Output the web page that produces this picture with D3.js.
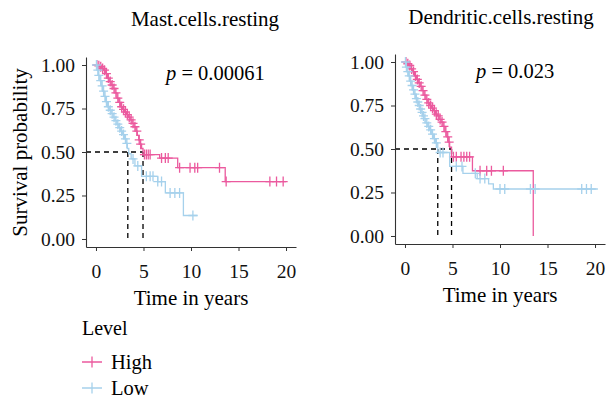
<!DOCTYPE html>
<html>
<head>
<meta charset="utf-8">
<script src="https://cdn.jsdelivr.net/npm/d3@7/dist/d3.min.js"></script>
<style>
  body { margin: 0; background: #fff; }
  svg { font-family: "Liberation Serif", serif; }
</style>
</head>
<body>
<svg id="chart" width="607" height="398"></svg>
<script>
const width = 607, height = 398

// ticks
const yearTicks = [0, 5, 10, 15, 20]
const probTicks = [0, 0.25, 0.5, 0.75, 1]
const groups = ['High', 'Low']
const colors = ['#EB5A9E', '#A6D1EC']

// Mast.cells.resting - High
const mastHighT = [0.2, 0.4, 0.6, 0.8, 1.0, 1.2, 1.4, 1.6, 1.8, 2.0, 2.2, 2.4, 2.6, 2.8, 3.0, 3.2, 3.4, 3.6, 3.8, 4.0, 4.2, 4.35, 4.5, 4.65, 4.8, 4.95, 6.7, 8.6, 13.6]
const mastHighS = [0.995, 0.99, 0.98, 0.97, 0.95, 0.925, 0.905, 0.885, 0.865, 0.84, 0.81, 0.785, 0.76, 0.745, 0.73, 0.715, 0.70, 0.685, 0.665, 0.645, 0.62, 0.595, 0.57, 0.545, 0.52, 0.485, 0.465, 0.41, 0.33]
const mastHighCens = [0.1, 0.3, 0.5, 0.7, 0.9, 1.1, 1.3, 1.5, 1.7, 1.9, 2.1, 2.3, 2.5, 2.7, 2.9, 3.1, 3.3, 3.5, 3.7, 3.9, 4.1, 4.3, 4.55, 4.7, 5.1, 5.3, 5.5, 5.7, 6.9, 7.3, 7.6, 8.8, 9.9, 10.4, 10.7, 13.0, 13.7, 18.3, 19.0, 19.7]
const mastHighEnd = 20

// Mast.cells.resting - Low
const mastLowT = [0.1, 0.25, 0.4, 0.55, 0.7, 0.85, 1.0, 1.2, 1.4, 1.6, 1.8, 2.0, 2.2, 2.4, 2.6, 2.8, 3.0, 3.15, 3.3, 3.45, 3.7, 4.1, 4.8, 6.5, 7.3, 9.2]
const mastLowS = [0.97, 0.94, 0.91, 0.88, 0.85, 0.82, 0.79, 0.76, 0.74, 0.72, 0.70, 0.68, 0.66, 0.64, 0.62, 0.60, 0.575, 0.55, 0.52, 0.49, 0.46, 0.42, 0.36, 0.33, 0.265, 0.135]
const mastLowCens = [0.05, 0.2, 0.3, 0.5, 0.65, 0.8, 0.95, 1.1, 1.3, 1.5, 1.7, 1.9, 2.1, 2.3, 2.5, 2.7, 2.9, 3.1, 3.25, 3.9, 4.4, 5.3, 5.7, 6.0, 6.5, 6.9, 7.8, 8.3, 8.8, 10.2]
const mastLowEnd = 10.7

// Dendritic.cells.resting - High
const dendHighT = [0.2, 0.4, 0.6, 0.8, 1.0, 1.2, 1.4, 1.6, 1.8, 2.0, 2.2, 2.4, 2.6, 2.8, 3.0, 3.2, 3.4, 3.6, 3.8, 4.0, 4.2, 4.4, 4.55, 4.7, 4.9, 7.1, 13.5]
const dendHighS = [0.99, 0.98, 0.96, 0.945, 0.92, 0.9, 0.88, 0.86, 0.835, 0.81, 0.785, 0.765, 0.75, 0.735, 0.72, 0.70, 0.69, 0.67, 0.655, 0.63, 0.60, 0.57, 0.54, 0.51, 0.455, 0.375, 0]
const dendHighCens = [0.1, 0.3, 0.5, 0.7, 0.9, 1.1, 1.3, 1.5, 1.7, 1.9, 2.1, 2.3, 2.5, 2.7, 2.9, 3.1, 3.3, 3.5, 3.7, 3.9, 4.1, 4.3, 4.5, 4.65, 5.1, 5.4, 5.9, 6.2, 6.5, 6.8, 7.9, 8.6, 9.1, 10.35]
const dendHighEnd = 13.5

// Dendritic.cells.resting - Low
const dendLowT = [0.1, 0.2, 0.35, 0.5, 0.65, 0.8, 0.95, 1.1, 1.25, 1.4, 1.55, 1.7, 1.85, 2.0, 2.2, 2.4, 2.6, 2.8, 3.0, 3.2, 3.45, 4.7, 6.1, 7.6, 8.8, 9.3]
const dendLowS = [0.97, 0.945, 0.92, 0.89, 0.865, 0.84, 0.815, 0.79, 0.77, 0.75, 0.73, 0.71, 0.69, 0.675, 0.65, 0.63, 0.61, 0.585, 0.56, 0.535, 0.48, 0.40, 0.36, 0.33, 0.30, 0.27]
const dendLowCens = [0.05, 0.15, 0.3, 0.45, 0.6, 0.75, 0.9, 1.05, 1.2, 1.35, 1.5, 1.65, 1.8, 1.95, 2.1, 2.3, 2.5, 2.7, 2.9, 3.1, 3.3, 3.7, 4.0, 5.4, 6.0, 7.4, 7.9, 8.4, 10.0, 10.5, 13.2, 13.7, 18.6, 19.1, 19.6]
const dendLowEnd = 20.3

const mastMedians = [3.35, 4.95]
const dendMedians = [3.45, 4.9]

const svg = d3.select('#chart')

function drawPanel(o) {
  const x = d3.scaleLinear().domain([-1.05, 21.05]).range([o.left, o.left + 210])
  const y = d3.scaleLinear().domain([-0.046, 1.046]).range([o.top + 190, o.top])
  const g = svg.append('g')

  //titulo
  g.append('text')
    .text(o.title)
    .attr('x', o.titleX).attr('y', o.titleY)
    .attr('text-anchor', 'middle')
    .attr('font-size', '21px')

  //mediana
  const med = o.medians
  g.append('path')
    .attr('d', `M${x(-1.05)},${y(0.5)}H${x(d3.max(med))}` +
      med.map(m => `M${x(m)},${y(0.5)}V${y(0)}`).join(''))
    .attr('fill', 'none').attr('stroke', '#000')
    .attr('stroke-width', 1.3).attr('stroke-dasharray', '5,4')

  //curvas
  const line = d3.line().x(d => x(d[0])).y(d => y(d[1])).curve(d3.curveStepAfter)
  o.curves.forEach((c, i) => {
    const pts = [[0, 1]].concat(c.t.map((t, j) => [t, c.s[j]]))
    pts.push([c.end, c.s[c.s.length - 1]])
    g.append('path')
      .attr('d', line(pts))
      .attr('fill', 'none').attr('stroke', colors[i]).attr('stroke-width', 1.3)
    const survAt = t => { const k = d3.bisectRight(c.t, t) - 1; return k < 0 ? 1 : c.s[k] }
    g.append('g').selectAll('path')
      .data(c.cens)
      .join('path')
      .attr('d', t => `M${x(t) - 4.5},${y(survAt(t))}h9M${x(t)},${y(survAt(t)) - 5}v10`)
      .attr('stroke', colors[i]).attr('stroke-width', 1.3).attr('fill', 'none')
  })

  //eje x
  g.append('g')
    .attr('transform', `translate(0, ${o.top + 190})`)
    .call(d3.axisBottom(x).tickValues(yearTicks).tickSize(4).tickSizeOuter(0).tickPadding(13))
    .attr('font-family', null).attr('font-size', null)
    .call(a => a.select('.domain').attr('stroke', '#333').attr('stroke-width', 1.1))
    .call(a => a.selectAll('.tick line').attr('stroke', '#333'))
    .call(a => a.selectAll('text').attr('font-size', '19.5px').attr('fill', '#111'))
  g.append('text')
    .text('Time in years')
    .attr('x', x(10)).attr('y', o.top + 248)
    .attr('text-anchor', 'middle').attr('font-size', '21px')

  //eje y
  g.append('g')
    .attr('transform', `translate(${o.left}, 0)`)
    .call(d3.axisLeft(y).tickValues(probTicks).tickFormat(d3.format('.2f')).tickSize(4).tickSizeOuter(0).tickPadding(7))
    .attr('font-family', null).attr('font-size', null)
    .call(a => a.select('.domain').attr('stroke', '#333').attr('stroke-width', 1.1))
    .call(a => a.selectAll('.tick line').attr('stroke', '#333'))
    .call(a => a.selectAll('text').attr('font-size', '19.5px').attr('fill', '#111'))

  //p valor
  const p = g.append('text')
    .attr('x', o.pX).attr('y', o.pY)
    .attr('font-size', '20.5px')
  p.append('tspan').attr('font-style', 'italic').text('p')
  p.append('tspan').text(' = ' + o.pval)
}

drawPanel({
  left: 86, top: 57, title: 'Mast.cells.resting', titleX: 205, titleY: 26,
  pval: '0.00061', pX: 166, pY: 80, medians: mastMedians,
  curves: [
    { t: mastHighT, s: mastHighS, cens: mastHighCens, end: mastHighEnd },
    { t: mastLowT, s: mastLowS, cens: mastLowCens, end: mastLowEnd }
  ]
})

drawPanel({
  left: 395, top: 54, title: 'Dendritic.cells.resting', titleX: 501, titleY: 24,
  pval: '0.023', pX: 476, pY: 78, medians: dendMedians,
  curves: [
    { t: dendHighT, s: dendHighS, cens: dendHighCens, end: dendHighEnd },
    { t: dendLowT, s: dendLowS, cens: dendLowCens, end: dendLowEnd }
  ]
})

//titulo eje y
svg.append('text')
  .text('Survival probability')
  .attr('transform', 'translate(26.5, 152.5) rotate(-90)')
  .attr('text-anchor', 'middle').attr('font-size', '21px')

//leyenda
svg.append('text').text('Level').attr('x', 82).attr('y', 335).attr('font-size', '20px')
const leg = svg.append('g').selectAll('g')
  .data(groups)
  .join('g')
  .attr('transform', (d, i) => `translate(82, ${362 + i * 26})`)
leg.append('path')
  .attr('d', 'M0,0h20M10,-5.5v11')
  .attr('stroke', (d, i) => colors[i]).attr('stroke-width', 1.3)
leg.append('text')
  .text(d => d)
  .attr('x', 29).attr('y', 6.5)
  .attr('font-size', '20.5px')
</script>
</body>
</html>
